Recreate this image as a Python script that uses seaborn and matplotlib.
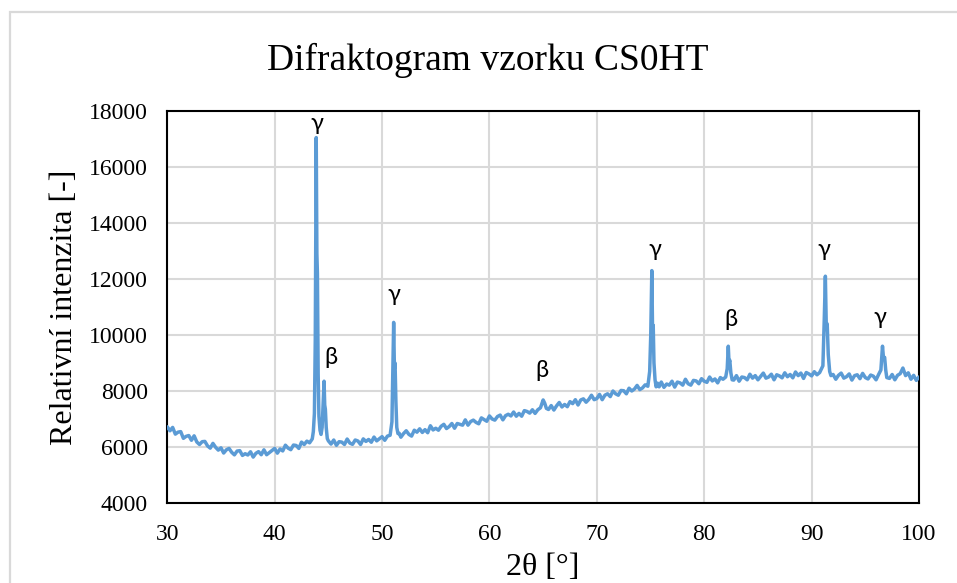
import matplotlib
matplotlib.use("Agg")
import matplotlib.pyplot as plt
import matplotlib.patches as mpatches
import seaborn as sns
import pandas as pd

# 2θ positions [°] and measured intensities of the CS0HT scan
two_theta = [
    30.00, 30.25, 30.50, 30.75, 31.00, 31.25, 31.50, 31.75,
    32.00, 32.25, 32.50, 32.75, 33.00, 33.25, 33.50, 33.75,
    34.00, 34.25, 34.50, 34.75, 35.00, 35.25, 35.50, 35.75,
    36.00, 36.25, 36.50, 36.75, 37.00, 37.25, 37.50, 37.75,
    38.00, 38.25, 38.50, 38.75, 39.00, 39.25, 39.50, 39.75,
    40.00, 40.25, 40.50, 40.75, 41.00, 41.25, 41.50, 41.75,
    42.00, 42.25, 42.50, 42.75, 43.00, 43.25, 43.50,
    43.60, 43.70, 43.78, 43.87, 43.93, 43.98, 44.05, 44.12, 44.22, 44.32,
    44.42, 44.52, 44.60, 44.66, 44.72, 44.80, 44.90,
    45.00, 45.25, 45.50, 45.75, 46.00, 46.25, 46.50, 46.75,
    47.00, 47.25, 47.50, 47.75, 48.00, 48.25, 48.50, 48.75,
    49.00, 49.25, 49.50, 49.75, 50.00, 50.25, 50.50, 50.75,
    50.92, 51.00, 51.08, 51.15, 51.21, 51.29, 51.37, 51.48,
    51.60, 51.75,
    52.00, 52.25, 52.50, 52.75, 53.00, 53.25, 53.50, 53.75,
    54.00, 54.25, 54.50, 54.75, 55.00, 55.25, 55.50, 55.75,
    56.00, 56.25, 56.50, 56.75, 57.00, 57.25, 57.50, 57.75,
    58.00, 58.25, 58.50, 58.75, 59.00, 59.25, 59.50, 59.75,
    60.00, 60.25, 60.50, 60.75, 61.00, 61.25, 61.50, 61.75,
    62.00, 62.25, 62.50, 62.75, 63.00, 63.25, 63.50, 63.75,
    64.00, 64.25, 64.50, 64.75, 65.00, 65.15, 65.30,
    65.50, 65.75,
    66.00, 66.25, 66.50, 66.75, 67.00, 67.25, 67.50, 67.75,
    68.00, 68.25, 68.50, 68.75, 69.00, 69.25, 69.50, 69.75,
    70.00, 70.25, 70.50, 70.75, 71.00, 71.25, 71.50, 71.75,
    72.00, 72.25, 72.50, 72.75, 73.00, 73.25, 73.50, 73.75,
    74.00, 74.25, 74.50, 74.75,
    74.92, 75.02, 75.12, 75.19, 75.25, 75.32, 75.42, 75.52,
    75.65, 75.80,
    76.00, 76.25, 76.50, 76.75, 77.00, 77.25, 77.50, 77.75,
    78.00, 78.25, 78.50, 78.75, 79.00, 79.25, 79.50, 79.75,
    80.00, 80.25, 80.50, 80.75, 81.00, 81.25, 81.50, 81.75,
    82.00, 82.14, 82.24, 82.31, 82.38, 82.48, 82.60, 82.75,
    83.00, 83.25, 83.50, 83.75, 84.00, 84.25, 84.50, 84.75,
    85.00, 85.25, 85.50, 85.75, 86.00, 86.25, 86.50, 86.75,
    87.00, 87.25, 87.50, 87.75, 88.00, 88.25, 88.50, 88.75,
    89.00, 89.25, 89.50, 89.75, 90.00, 90.25, 90.50, 90.75,
    91.05, 91.18, 91.28, 91.37, 91.45, 91.55, 91.68, 91.80,
    92.00, 92.25, 92.50, 92.75, 93.00, 93.25, 93.50, 93.75,
    94.00, 94.25, 94.50, 94.75, 95.00, 95.25, 95.50, 95.75,
    96.00, 96.25, 96.45, 96.60, 96.70, 96.80, 96.90, 97.00,
    97.25, 97.50, 97.75, 98.00, 98.25, 98.50, 98.75,
    99.00, 99.25, 99.50, 99.75, 100.00,
]

intensity = [
    6720, 6580, 6700, 6460, 6530, 6550, 6310, 6380,
    6410, 6240, 6400, 6180, 6090, 6190, 6200, 6040,
    5960, 6130, 5990, 5890, 5970, 5785, 5900, 5950,
    5810, 5720, 5855, 5870, 5700, 5760, 5715, 5830,
    5640, 5775, 5835, 5725, 5900, 5725, 5800, 5880,
    5950, 5780, 5930, 5860, 6065, 5960, 5905, 6070,
    6055, 5950, 6175, 6090, 6210, 6150, 6290,
    6550, 7200, 9800, 17050, 12900, 12200, 8600, 7100, 6600, 6450,
    6700, 7600, 8350, 7500, 7350, 6700, 6300,
    6220, 6105, 6250, 6060, 6190, 6175, 6090, 6285,
    6140, 6095, 6250, 6215, 6090, 6290, 6200, 6270,
    6170, 6355, 6220, 6295, 6370, 6240, 6390, 6420,
    6900, 8600, 10450, 8800, 9000, 7600, 6700, 6480,
    6490, 6350,
    6480, 6580, 6450, 6390, 6600, 6530, 6650, 6520,
    6620, 6510, 6760, 6610, 6670, 6600, 6740, 6810,
    6660, 6730, 6840, 6670, 6840, 6810, 6780, 6970,
    6780, 6910, 6960, 6880, 6830, 7040, 6980, 6920,
    7110, 7000, 6960, 7090, 7140, 6970, 7120, 7170,
    7110, 7250, 7100, 7200, 7100, 7300, 7270, 7210,
    7330, 7200, 7330, 7400, 7680, 7560, 7380,
    7340, 7480,
    7320, 7470, 7590, 7430, 7520, 7440, 7620, 7550,
    7690, 7500, 7680, 7720, 7600, 7700, 7850, 7690,
    7730, 7880, 7690, 7850, 7900, 7800, 8000, 7900,
    7850, 8020, 8010, 7900, 8100, 8000, 8070, 8200,
    8050, 8110, 8220, 8170,
    8700, 10000, 12300, 10100, 10350, 9000, 8400, 8150,
    8280, 8150,
    8320, 8130, 8250, 8210, 8350, 8140, 8320, 8290,
    8210, 8420, 8260, 8210, 8380, 8360, 8260, 8440,
    8350, 8310, 8500, 8360, 8430, 8290, 8480, 8420,
    8500, 8800, 9600, 9000, 9100, 8650, 8400, 8390,
    8550, 8350, 8500, 8480, 8400, 8600, 8460, 8550,
    8400, 8520, 8640, 8460, 8500, 8600, 8400, 8580,
    8540, 8470, 8650, 8510, 8590, 8470, 8680, 8550,
    8640, 8450, 8660, 8610, 8540, 8690, 8580, 8660,
    8900, 10600, 12100, 10200, 10400, 9300, 8700, 8550,
    8590, 8420, 8560, 8640, 8460, 8510, 8610, 8390,
    8550, 8580, 8440, 8630, 8480, 8430, 8570, 8530,
    8400, 8600, 8750, 9600, 9150, 9200, 8750, 8480,
    8450, 8590, 8400, 8560, 8620, 8820, 8550,
    8650, 8420, 8560, 8380, 8500,
]

# Phase labels placed above the reflections
label_text = ["γ", "β", "γ", "β", "γ", "β", "γ", "γ"]
label_theta = [43.9, 45.2, 51.1, 64.85, 75.4, 82.5, 91.1, 96.4]
label_int = [17560, 9180, 11430, 8750, 13070, 10540, 13040, 10640]

x_ticks = [30, 40, 50, 60, 70, 80, 90, 100]
y_ticks = [4000, 6000, 8000, 10000, 12000, 14000, 16000, 18000]

sns.set_theme(style="white")
plt.rcParams["font.family"] = ["Liberation Serif", "DejaVu Serif"]

fig = plt.figure(figsize=(9.57, 5.83), dpi=100)
ax = fig.add_axes([0.1748, 0.1372, 0.7855, 0.6724])

# light chart-area frame
fig.patches.append(mpatches.Rectangle(
    (10 / 957, -0.05), 1.2, 1 - 12 / 583 + 0.05,
    transform=fig.transFigure, fill=False, edgecolor="#d9d9d9",
    linewidth=1.6, zorder=0))

df = pd.DataFrame({"2θ": two_theta, "I": intensity})
sns.lineplot(data=df, x="2θ", y="I", ax=ax, color="#5b9bd5",
             linewidth=2.5, estimator=None, sort=False, zorder=3)

ax.set_xlim(30, 100)
ax.set_ylim(4000, 18000)
ax.set_xticks(x_ticks)
ax.set_yticks(y_ticks)
ax.set_xticklabels([str(v) for v in x_ticks])
ax.set_yticklabels([str(v) for v in y_ticks])
ax.tick_params(axis="both", length=0, labelsize=17, colors="black")
ax.tick_params(axis="y", pad=14)
ax.tick_params(axis="x", pad=15)

ax.grid(True, color="#d9d9d9", linewidth=1.5)
ax.set_axisbelow(True)
for side in ["left", "right", "top", "bottom"]:
    ax.spines[side].set_visible(True)
    ax.spines[side].set_color("black")
    ax.spines[side].set_linewidth(1.5)

ax.set_xlabel("2θ [°]", fontsize=23, color="black")
ax.set_ylabel("Relativní intenzita [-]", fontsize=23, color="black")
ax.xaxis.set_label_coords(0.5, -0.128)
ax.yaxis.set_label_coords(-0.117, 0.5)

fig.text(0.51, 0.897, "Difraktogram vzorku CS0HT", ha="center",
         va="center", fontsize=27, color="black")

for txt, tx, ty in zip(label_text, label_theta, label_int):
    ax.text(tx, ty, txt, ha="center", va="center", fontsize=17,
            color="black", family=["Lato", "DejaVu Sans"], zorder=4)

fig.savefig("out.png", dpi=100)
